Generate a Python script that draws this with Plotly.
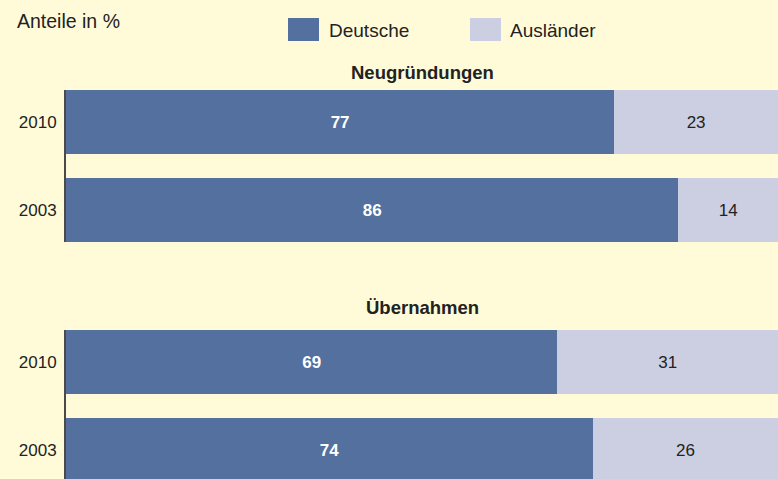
import plotly.graph_objects as go

years = ["2010", "2003"]
neu_deutsche = [77, 86]
neu_auslaender = [23, 14]
ueb_deutsche = [69, 74]
ueb_auslaender = [31, 26]
series_names = ["Deutsche", "Ausländer"]
group_titles = ["Neugründungen", "Übernahmen"]

BG = "#FFFBD9"
BLUE = "#53709E"
LILAC = "#CCCFE1"
TXT = "#222222"
FONT = "Liberation Sans, Arial, sans-serif"
W, H = 778, 479
L = 66

fig = go.Figure()

def add_group(deutsch, ausl, yaxis):
    fig.add_trace(go.Bar(
        y=years, x=deutsch, orientation="h", name=series_names[0],
        marker=dict(color=BLUE, line=dict(width=0)),
        text=deutsch, texttemplate="<b>%{x}</b>", textposition="inside",
        insidetextanchor="middle", textangle=0,
        textfont=dict(color="white", size=17, family=FONT),
        yaxis=yaxis, xaxis="x", showlegend=False, hoverinfo="skip"))
    fig.add_trace(go.Bar(
        y=years, x=ausl, orientation="h", name=series_names[1],
        marker=dict(color=LILAC, line=dict(width=0)),
        text=ausl, texttemplate="%{x}", textposition="inside",
        insidetextanchor="middle", textangle=0,
        textfont=dict(color=TXT, size=17, family=FONT),
        yaxis=yaxis, xaxis="x", showlegend=False, hoverinfo="skip"))

add_group(neu_deutsche, neu_auslaender, "y")
add_group(ueb_deutsche, ueb_auslaender, "y2")

def py(px):
    return (H - px) / H

def pxx(px):
    return (px - L) / (W - L)

yax_common = dict(
    type="category", categoryorder="array", categoryarray=years,
    showline=True, linecolor="#4a4a4a", linewidth=2,
    showgrid=False, zeroline=False, ticks="", ticklabelstandoff=4,
    tickfont=dict(size=17, color=TXT, family=FONT), fixedrange=True)

fig.update_layout(
    width=W, height=H,
    margin=dict(l=L, r=0, t=0, b=0),
    paper_bgcolor=BG, plot_bgcolor=BG,
    barmode="stack", bargap=24 / 88,
    showlegend=False,
    xaxis=dict(range=[0, 100], visible=False, fixedrange=True),
    yaxis=dict(domain=[py(242), py(90)], range=[1.5 - 12 / 88, -0.5 + 12 / 88], **yax_common),
    yaxis2=dict(domain=[0, py(330)], range=[1.5 - 12 / 88 - 3 / 88, -0.5 + 12 / 88], anchor="x", **yax_common),
)

# legend (drawn manually for large swatches)
shapes = []
annotations = []
for name, color, x0, x1, tx in [(series_names[0], BLUE, 288, 319, 327),
                                 (series_names[1], LILAC, 470, 501, 508)]:
    shapes.append(dict(type="rect", xref="paper", yref="paper",
                       x0=pxx(x0), x1=pxx(x1), y0=py(41), y1=py(18),
                       fillcolor=color, line=dict(width=0)))
    annotations.append(dict(text=name, xref="paper", yref="paper",
                            x=pxx(tx), y=py(30), xanchor="left", yanchor="middle",
                            showarrow=False, font=dict(size=19, color=TXT, family=FONT)))

annotations.append(dict(text="Anteile in %", xref="paper", yref="paper",
                        x=pxx(15), y=py(21), xanchor="left", yanchor="middle",
                        showarrow=False, font=dict(size=19.5, color=TXT, family=FONT)))
annotations.append(dict(text="<b>" + group_titles[0] + "</b>", xref="paper", yref="paper",
                        x=pxx(422), y=py(72), xanchor="center", yanchor="middle",
                        showarrow=False, font=dict(size=18.5, color=TXT, family=FONT)))
annotations.append(dict(text="<b>" + group_titles[1] + "</b>", xref="paper", yref="paper",
                        x=pxx(422), y=py(307), xanchor="center", yanchor="middle",
                        showarrow=False, font=dict(size=18.5, color=TXT, family=FONT)))

fig.update_layout(shapes=shapes, annotations=annotations)

fig.write_html("out.html", config={"displayModeBar": False, "staticPlot": True},
               post_script="document.body.style.margin='0';document.body.style.padding='0';document.body.style.overflow='hidden';")
